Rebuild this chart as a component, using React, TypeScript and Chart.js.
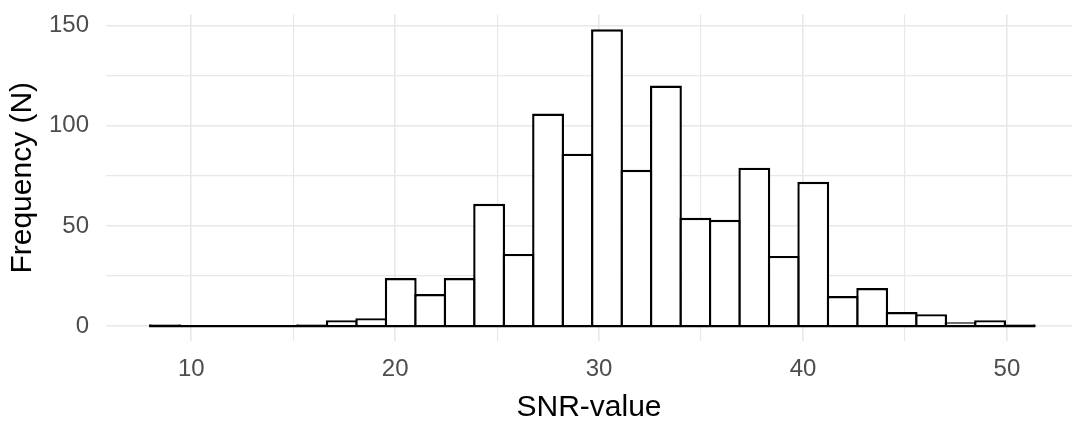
import React, { useEffect, useRef } from "react";
import { Chart, registerables } from "chart.js";

Chart.register(...registerables);

// Histogram bins (30 bins, ggplot default)
const BIN_START = 7.99;
const BIN_WIDTH = 1.445;
const COUNTS = [
  1, 0, 0, 0, 0, 1, 3, 4, 24, 16, 24, 61, 36, 106, 86,
  148, 78, 120, 54, 53, 79, 35, 72, 15, 19, 7, 6, 2, 3, 1,
];
const X_TICK_LABELS = [10, 20, 30, 40, 50];
const Y_TICK_LABELS = [0, 50, 100, 150];
const X_RANGE = [5.82, 53.19];
const Y_RANGE = [-7.4, 155.4];
const X_TITLE = "SNR-value";
const Y_TITLE = "Frequency (N)";

const FONT = "'Liberation Sans', Arial, Helvetica, sans-serif";
const BORDER = 2.4;

// Outline of the histogram's bottom edge (zero-count bins included), as ggplot draws it
const baselinePlugin = {
  id: "histBaseline",
  afterDatasetsDraw(chart: any) {
    const xs = chart.scales.x;
    const ys = chart.scales.y;
    const y0 = ys.getPixelForValue(0);
    const x0 = xs.getPixelForValue(BIN_START);
    const x1 = xs.getPixelForValue(BIN_START + COUNTS.length * BIN_WIDTH);
    const ctx = chart.ctx;
    ctx.save();
    ctx.strokeStyle = "#000000";
    ctx.lineWidth = BORDER;
    ctx.beginPath();
    ctx.moveTo(x0 - BORDER / 2, y0);
    ctx.lineTo(x1 + BORDER / 2, y0);
    ctx.stroke();
    ctx.restore();
  },
};

export default function App() {
  const ref = useRef<HTMLCanvasElement | null>(null);

  useEffect(() => {
    const canvas = ref.current;
    if (!canvas) return;
    const data = COUNTS.map((c, i) => ({ x: BIN_START + (i + 0.5) * BIN_WIDTH, y: c }));
    const chart = new Chart(canvas, {
      type: "bar",
      data: {
        datasets: [
          {
            data,
            backgroundColor: "#FFFFFF",
            borderColor: "#000000",
            borderWidth: BORDER,
            borderSkipped: "start",
            categoryPercentage: 1,
            barPercentage: 1 + BORDER / 29.48,
          } as any,
        ],
      },
      plugins: [baselinePlugin],
      options: {
        animation: false,
        responsive: false,
        devicePixelRatio: 1,
        layout: { padding: { top: 14.5, right: 0, bottom: 0, left: 0 } },
        plugins: { legend: { display: false }, tooltip: { enabled: false } },
        scales: {
          x: {
            type: "linear",
            offset: false,
            min: X_RANGE[0],
            max: X_RANGE[1],
            border: { display: false },
            grid: {
              offset: false,
              color: "#E8E8E8",
              lineWidth: (ctx: any) => (X_TICK_LABELS.includes(ctx.tick?.value) ? 1.6 : 1.2),
              drawTicks: false,
            },
            ticks: {
              stepSize: 5,
              includeBounds: false,
              autoSkip: false,
              maxRotation: 0,
              padding: 14.3,
              color: "#4D4D4D",
              font: { family: FONT, size: 24 },
              callback: (v: any) => (X_TICK_LABELS.includes(Number(v)) ? String(v) : ""),
            } as any,
            title: {
              display: true,
              text: X_TITLE,
              color: "#000000",
              font: { family: FONT, size: 30, lineHeight: 0.87 },
              padding: { top: 0, bottom: 0 },
            },
            afterFit: (s: any) => {
              s.height = 80;
              s.paddingLeft = 0;
              s.paddingRight = 0;
            },
          },
          y: {
            type: "linear",
            min: Y_RANGE[0],
            max: Y_RANGE[1],
            border: { display: false },
            grid: {
              color: "#E8E8E8",
              lineWidth: (ctx: any) => (Y_TICK_LABELS.includes(ctx.tick?.value) ? 1.6 : 1.2),
              drawTicks: false,
            },
            ticks: {
              stepSize: 25,
              includeBounds: false,
              padding: 17,
              color: "#4D4D4D",
              font: { family: FONT, size: 24 },
              callback: (v: any) => (Y_TICK_LABELS.includes(Number(v)) ? String(v) : ""),
            } as any,
            title: {
              display: true,
              text: Y_TITLE,
              color: "#000000",
              font: { family: FONT, size: 30, lineHeight: 0.87 },
              padding: { top: 10, bottom: 0 },
            },
            afterFit: (s: any) => {
              s.width = 106;
              s.paddingTop = 0;
              s.paddingBottom = 0;
            },
          },
        },
      },
    });
    return () => chart.destroy();
  }, []);

  return (
    <div style={{ position: "absolute", left: 0, top: 0, width: 1072, height: 421, background: "#FFFFFF" }}>
      <canvas ref={ref} width={1072} height={421} style={{ display: "block", width: 1072, height: 421 }} />
    </div>
  );
}
